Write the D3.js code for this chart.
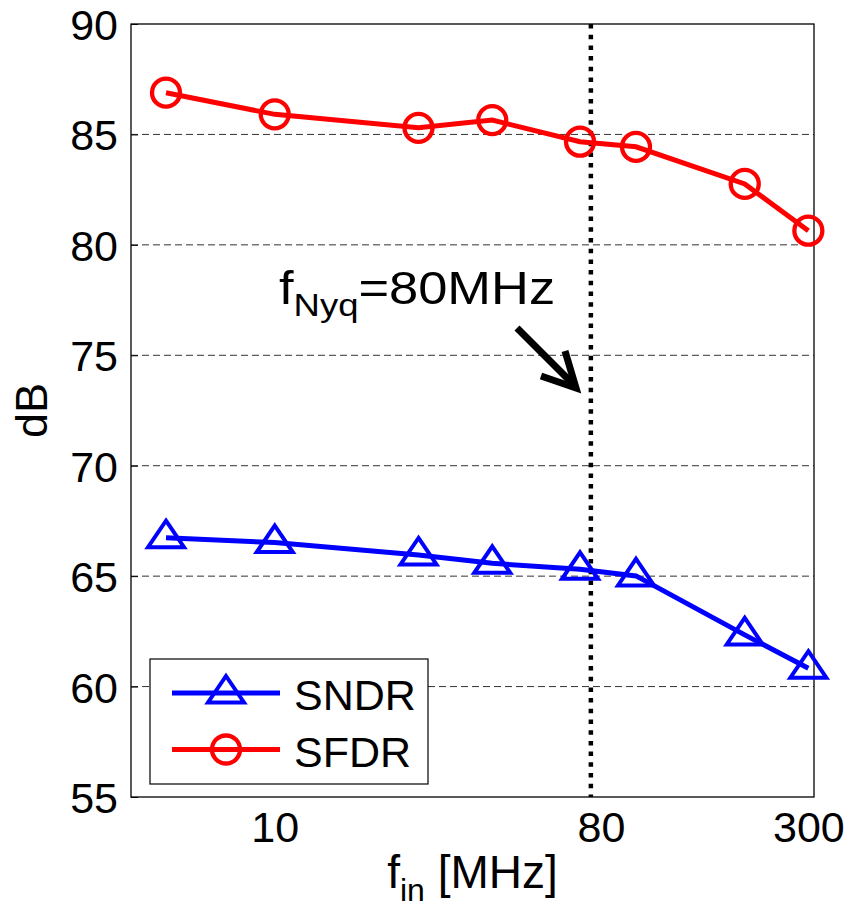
<!DOCTYPE html>
<html>
<head>
<meta charset="utf-8">
<script src="https://cdn.jsdelivr.net/npm/d3@7"></script>
<style>
  body { margin: 0; background: #fff; }
  svg text { font-family: "Liberation Sans", Arial, sans-serif; fill: #000; }
</style>
</head>
<body>
<div id="chart"></div>
<script>
// input frequency in MHz (log axis)
var freqs = [5, 10, 25, 40, 70, 100, 200, 300];
var sndr = [66.74, 66.52, 65.96, 65.58, 65.31, 65.01, 62.34, 60.83];
var sfdr = [86.89, 85.91, 85.30, 85.65, 84.67, 84.44, 82.76, 80.64];
var xTicks = [10, 80, 300];
var yTicks = [55, 60, 65, 70, 75, 80, 85, 90];
var nyqFreq = 75;   // where the dotted line sits on the picture
var seriesNames = ["SNDR", "SFDR"];

var W = 849, H = 918;
var margin = {top: 24, right: 35, bottom: 121, left: 131},
    width = W - margin.left - margin.right,
    height = H - margin.top - margin.bottom;

var svg = d3.select("#chart").append("svg")
    .attr("width", W)
    .attr("height", H);

var x = d3.scaleLog().domain([4, 311]).range([0, width]),
    y = d3.scaleLinear().domain([55, 90]).range([height, 0]);

var g = svg.append("g")
    .attr("transform", "translate(" + margin.left + "," + margin.top + ")");

/* dashed grid on y */
g.append("g").selectAll("line")
    .data(yTicks.filter(function (d) { return d > 55 && d < 90; }))
    .enter().append("line")
    .attr("x1", 0).attr("x2", width)
    .attr("y1", function (d) { return y(d); })
    .attr("y2", function (d) { return y(d); })
    .attr("stroke", "#333")
    .attr("stroke-width", 1)
    .attr("stroke-dasharray", "7,4");

/* axes */
var yAxis = d3.axisLeft(y).tickValues(yTicks).tickSizeInner(-7).tickSizeOuter(0).tickPadding(13);
var xAxis = d3.axisBottom(x).tickValues(xTicks).tickFormat(d3.format("d")).tickSize(0).tickPadding(14);

var gy = g.append("g").call(yAxis);
gy.select(".domain").remove();
gy.selectAll("text").style("font-size", "43px").attr("dy", "0.36em");
gy.selectAll("line").attr("stroke", "#000");

var gx = g.append("g").attr("transform", "translate(0," + height + ")").call(xAxis);
gx.select(".domain").remove();
gx.selectAll("text").style("font-size", "43px").attr("dy", "0.71em");

/* frame */
g.append("rect")
    .attr("width", width).attr("height", height)
    .attr("fill", "none").attr("stroke", "#000").attr("stroke-width", 1.3);

/* Nyquist line */
g.append("line")
    .attr("x1", x(nyqFreq)).attr("x2", x(nyqFreq))
    .attr("y1", 0).attr("y2", height)
    .attr("stroke", "#000").attr("stroke-width", 4.5)
    .attr("stroke-dasharray", "4.5,6.2");

/* markers */
function triPath(s) {
    // apex higher than base, data point ~2/3 down
    return "M0," + (-17 * s) + "L" + (18 * s) + "," + (9.5 * s) + "L" + (-18 * s) + "," + (9.5 * s) + "Z";
}

var line = d3.line()
    .x(function (d) { return x(d[0]); })
    .y(function (d) { return y(d[1]); });

var sndrData = freqs.map(function (f, i) { return [f, sndr[i]]; }),
    sfdrData = freqs.map(function (f, i) { return [f, sfdr[i]]; });

g.append("path").datum(sfdrData)
    .attr("d", line).attr("fill", "none")
    .attr("stroke", "#ff0000").attr("stroke-width", 5);
g.append("g").selectAll("circle")
    .data(sfdrData).enter().append("circle")
    .attr("cx", function (d) { return x(d[0]); })
    .attr("cy", function (d) { return y(d[1]); })
    .attr("r", 14)
    .attr("fill", "none").attr("stroke", "#ff0000").attr("stroke-width", 4.3);

g.append("path").datum(sndrData)
    .attr("d", line).attr("fill", "none")
    .attr("stroke", "#0000ff").attr("stroke-width", 5);
g.append("g").selectAll("path")
    .data(sndrData).enter().append("path")
    .attr("d", triPath(1))
    .attr("transform", function (d) { return "translate(" + x(d[0]) + "," + y(d[1]) + ")"; })
    .attr("fill", "none").attr("stroke", "#0000ff").attr("stroke-width", 4);

/* annotation */
var ann = svg.append("g").attr("transform", "translate(279,304) scale(1.14,1)");
var at = ann.append("text").style("font-size", "46px");
at.append("tspan").text("f");
at.append("tspan").style("font-size", "32px").attr("dy", 12).text("Nyq");
at.append("tspan").attr("dy", -12).text("=80MHz");

svg.append("line")
    .attr("x1", 517).attr("y1", 328).attr("x2", 574).attr("y2", 385)
    .attr("stroke", "#000").attr("stroke-width", 7);
svg.append("path")
    .attr("d", "M541,376L576,388L565,351")
    .attr("fill", "none").attr("stroke", "#000").attr("stroke-width", 7)
    .attr("stroke-linejoin", "miter");

/* axis titles */
svg.append("text")
    .attr("transform", "translate(47," + (margin.top + height / 2) + ") rotate(-90)")
    .attr("text-anchor", "middle")
    .style("font-size", "45px")
    .text("dB");

var xt = svg.append("text")
    .attr("x", margin.left + width / 2).attr("y", 888)
    .attr("text-anchor", "middle")
    .style("font-size", "46px");
xt.append("tspan").text("f");
xt.append("tspan").style("font-size", "32px").attr("dy", 13).text("in");
xt.append("tspan").attr("dy", -13).text(" [MHz]");

/* legend */
var leg = svg.append("g").attr("transform", "translate(150,659)");
leg.append("rect")
    .attr("width", 278).attr("height", 125)
    .attr("fill", "#fff").attr("stroke", "#000").attr("stroke-width", 1.2);

var legItems = leg.selectAll(".item")
    .data(seriesNames).enter().append("g")
    .attr("transform", function (d, i) { return "translate(0," + (34 + i * 56.5) + ")"; });
legItems.append("line")
    .attr("x1", 22).attr("x2", 130)
    .attr("stroke", function (d, i) { return i === 0 ? "#0000ff" : "#ff0000"; })
    .attr("stroke-width", 5);
legItems.filter(function (d, i) { return i === 0; }).append("path")
    .attr("d", triPath(1))
    .attr("transform", "translate(76,0)")
    .attr("fill", "none").attr("stroke", "#0000ff").attr("stroke-width", 4);
legItems.filter(function (d, i) { return i === 1; }).append("circle")
    .attr("cx", 76).attr("r", 14)
    .attr("fill", "none").attr("stroke", "#ff0000").attr("stroke-width", 4.3);
legItems.append("text")
    .attr("x", 144).attr("y", 17)
    .style("font-size", "43px")
    .text(function (d) { return d; });
</script>
</body>
</html>
